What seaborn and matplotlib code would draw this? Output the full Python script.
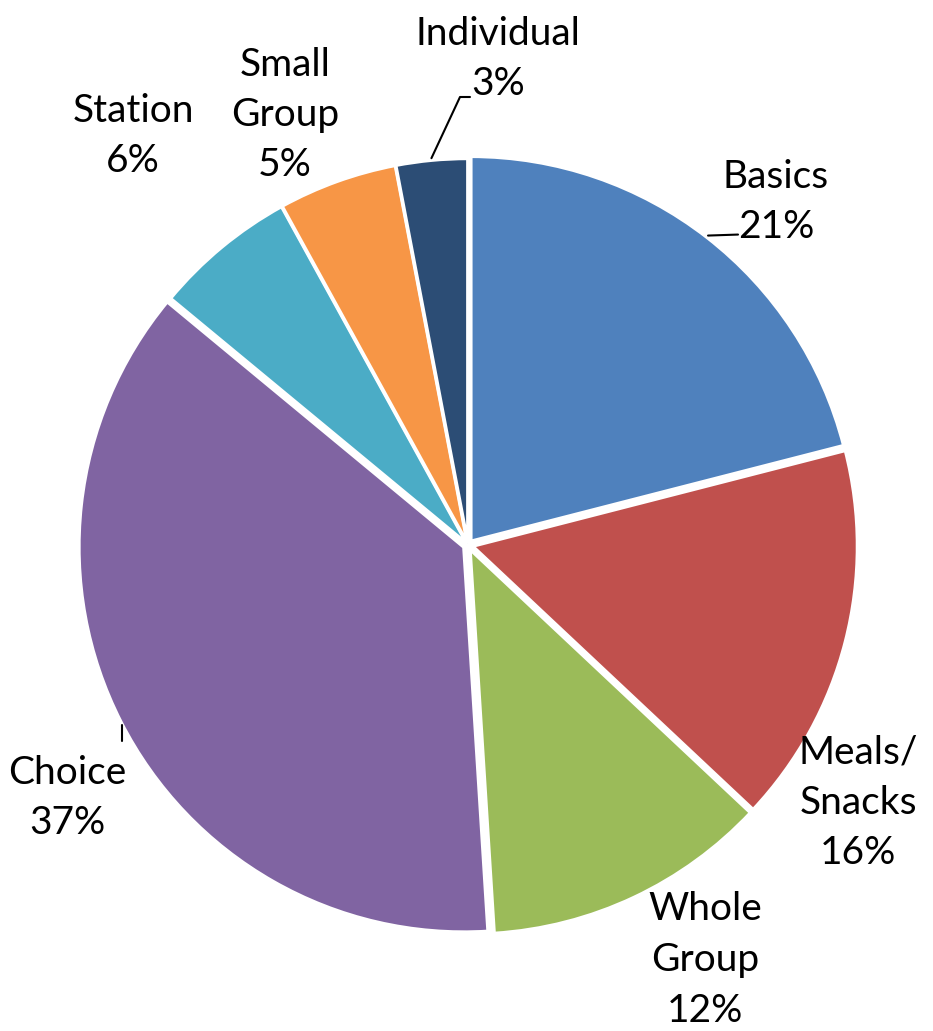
import numpy as np
import matplotlib
matplotlib.use("Agg")
import matplotlib.pyplot as plt
import seaborn as sns

# data
categories = ["Basics", "Meals/\nSnacks", "Whole\nGroup", "Choice", "Station", "Small\nGroup", "Individual"]
shares = [21, 16, 12, 37, 6, 5, 3]
colors = ["#4F81BD", "#C0504D", "#9BBB59", "#8064A2", "#4BACC6", "#F79646", "#2C4D75"]

sns.set_style("white")
plt.rcParams["font.family"] = ["Lato", "DejaVu Sans"]

W, H = 933, 1031
fig = plt.figure(figsize=(W / 100, H / 100), dpi=100)
ax = fig.add_axes([0, 0, 1, 1])

cx, cy, R = 468, H - 545, 385
explode = [0.012, 0.012, 0.012, 0.012, 0.004, 0.004, 0.004]
wedges, _ = ax.pie(shares, colors=colors, startangle=90, counterclock=False,
                   center=(cx, cy), radius=R, explode=[e * R for e in explode],
                   wedgeprops=dict(edgecolor="white", linewidth=2.5))
ax.set_xlim(0, W)
ax.set_ylim(0, H)
ax.set_aspect("equal")
ax.axis("off")

# label anchor positions (pixels from top-left)
label_pos = [(776, 202), (858, 803), (705, 960), (67, 798), (133, 136), (285, 115), (498, 59)]
for cat, s, (lx, ly) in zip(categories, shares, label_pos):
    ax.text(lx, H - ly, f"{cat}\n{s}%", ha="center", va="center", fontsize=28,
            linespacing=1.5, color="black")

# leader lines
def edge_point(w, r=R + 2, da=0.0):
    a = np.deg2rad((w.theta1 + w.theta2) / 2 + da)
    return w.center[0] + r * np.cos(a), w.center[1] + r * np.sin(a)

x0, y0 = edge_point(wedges[0])
ax.plot([x0, x0 + 30], [y0, y0 + 1], color="black", lw=1.5)
x6, y6 = edge_point(wedges[6])
ax.plot([x6, 460, 470], [y6, H - 97, H - 97], color="black", lw=1.5)
x3, y3 = edge_point(wedges[3], R + 8, 2.5)
ax.plot([x3, x3], [y3, y3 + 16], color="black", lw=1.5)

fig.savefig("out.png", dpi=100)
